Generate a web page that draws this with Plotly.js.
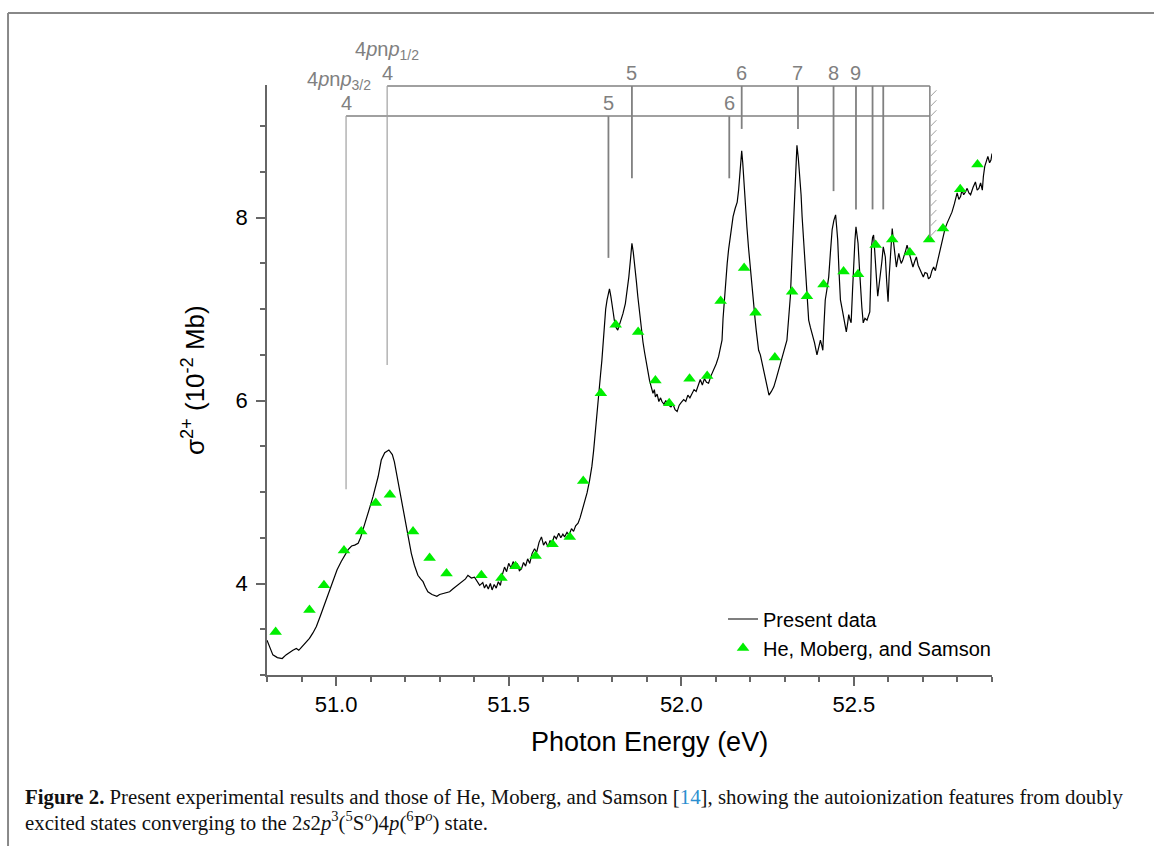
<!DOCTYPE html>
<html>
<head>
<meta charset="utf-8">
<script src="https://cdn.plot.ly/plotly-3.0.1.min.js"></script>
<style>html,body{margin:0;padding:0;background:#fff;}#chart{width:1154px;height:846px;}</style>
</head>
<body>
<div id="chart"></div>
<script>
// Present data (photon energy in eV, sigma 2+ in 1e-2 Mb)
const presentE = [50.800,50.805,50.817,50.830,50.844,50.855,50.865,50.875,50.885,50.892,50.899,50.912,50.923,50.933,50.943,50.955,50.967,50.980,50.991,51.003,51.015,51.025,51.035,51.045,51.054,51.064,51.071,51.078,51.086,51.093,51.100,51.107,51.115,51.122,51.131,51.141,51.153,51.163,51.169,51.175,51.182,51.189,51.197,51.204,51.211,51.218,51.227,51.237,51.245,51.252,51.259,51.266,51.278,51.292,51.300,51.310,51.320,51.329,51.338,51.348,51.358,51.368,51.375,51.382,51.392,51.401,51.408,51.416,51.425,51.430,51.435,51.441,51.447,51.452,51.458,51.464,51.470,51.476,51.482,51.488,51.494,51.500,51.507,51.513,51.519,51.525,51.531,51.537,51.543,51.549,51.555,51.561,51.568,51.575,51.581,51.588,51.595,51.601,51.607,51.614,51.620,51.626,51.632,51.638,51.645,51.651,51.657,51.662,51.669,51.675,51.682,51.688,51.694,51.701,51.707,51.713,51.720,51.727,51.734,51.741,51.746,51.751,51.756,51.761,51.766,51.770,51.774,51.777,51.781,51.785,51.789,51.792,51.796,51.799,51.803,51.806,51.811,51.816,51.820,51.824,51.831,51.838,51.843,51.848,51.853,51.857,51.861,51.865,51.870,51.874,51.879,51.884,51.889,51.894,51.898,51.903,51.908,51.913,51.918,51.922,51.925,51.930,51.935,51.940,51.944,51.950,51.955,51.963,51.970,51.976,51.982,51.988,51.994,52.000,52.007,52.013,52.019,52.025,52.031,52.037,52.043,52.049,52.055,52.061,52.067,52.073,52.079,52.086,52.094,52.101,52.108,52.113,52.118,52.121,52.125,52.129,52.133,52.137,52.142,52.146,52.150,52.156,52.162,52.166,52.169,52.172,52.175,52.178,52.181,52.185,52.190,52.195,52.200,52.205,52.210,52.214,52.217,52.221,52.224,52.229,52.234,52.238,52.243,52.248,52.254,52.261,52.268,52.275,52.282,52.286,52.296,52.306,52.311,52.316,52.320,52.324,52.328,52.332,52.335,52.339,52.343,52.347,52.350,52.355,52.359,52.364,52.369,52.374,52.379,52.386,52.393,52.398,52.403,52.407,52.410,52.413,52.417,52.422,52.427,52.432,52.437,52.442,52.447,52.450,52.453,52.457,52.461,52.466,52.470,52.474,52.478,52.482,52.485,52.489,52.492,52.496,52.499,52.503,52.506,52.509,52.512,52.516,52.519,52.523,52.527,52.532,52.538,52.542,52.546,52.549,52.551,52.554,52.557,52.560,52.562,52.566,52.569,52.573,52.577,52.581,52.585,52.588,52.591,52.595,52.599,52.602,52.606,52.609,52.611,52.614,52.617,52.620,52.623,52.627,52.630,52.634,52.637,52.641,52.645,52.650,52.654,52.659,52.664,52.668,52.671,52.676,52.681,52.686,52.691,52.696,52.701,52.706,52.712,52.716,52.721,52.726,52.731,52.736,52.741,52.746,52.750,52.754,52.758,52.764,52.770,52.777,52.784,52.791,52.799,52.804,52.809,52.813,52.818,52.823,52.828,52.833,52.838,52.845,52.852,52.857,52.862,52.867,52.872,52.875,52.879,52.884,52.888,52.893,52.897,52.900];
const presentY = [3.38,3.33,3.22,3.19,3.18,3.22,3.25,3.27,3.29,3.27,3.30,3.35,3.40,3.46,3.53,3.65,3.78,3.92,4.04,4.15,4.24,4.31,4.37,4.41,4.42,4.44,4.50,4.59,4.68,4.77,4.86,4.95,5.06,5.17,5.35,5.43,5.46,5.41,5.33,5.21,5.08,4.95,4.78,4.62,4.47,4.33,4.20,4.09,4.05,4.02,3.96,3.91,3.88,3.86,3.88,3.89,3.90,3.91,3.94,3.97,3.99,4.02,4.05,4.09,4.06,4.07,4.03,3.98,4.01,3.95,3.99,3.94,4.00,3.93,3.99,3.95,4.02,3.98,4.10,4.18,4.13,4.22,4.17,4.24,4.19,4.22,4.14,4.16,4.23,4.19,4.27,4.22,4.33,4.38,4.34,4.45,4.51,4.42,4.46,4.40,4.47,4.44,4.52,4.49,4.55,4.50,4.54,4.51,4.56,4.53,4.60,4.57,4.63,4.66,4.72,4.80,4.90,4.99,5.12,5.28,5.45,5.68,5.88,6.08,6.28,6.44,6.65,6.85,7.00,7.10,7.18,7.22,7.14,7.08,6.96,6.88,6.80,6.77,6.82,6.85,6.95,7.06,7.20,7.35,7.55,7.72,7.62,7.50,7.30,7.14,6.95,6.77,6.64,6.52,6.42,6.33,6.22,6.15,6.08,6.12,6.04,6.07,5.99,6.03,5.99,5.96,6.00,5.95,5.93,5.96,5.90,5.88,5.95,5.98,6.01,5.99,6.06,6.03,6.08,6.12,6.10,6.18,6.23,6.17,6.24,6.20,6.19,6.27,6.33,6.40,6.48,6.56,6.66,6.90,7.14,7.32,7.50,7.65,7.79,7.92,8.01,8.10,8.17,8.30,8.45,8.60,8.73,8.60,8.41,8.15,7.90,7.66,7.43,7.22,7.03,6.88,6.77,6.66,6.55,6.50,6.41,6.33,6.23,6.14,6.06,6.10,6.15,6.24,6.33,6.41,6.52,6.66,6.90,7.14,7.50,7.87,8.30,8.60,8.79,8.65,8.48,8.25,8.01,7.70,7.39,7.12,6.88,6.80,6.74,6.63,6.50,6.58,6.66,6.60,6.55,6.80,7.10,7.22,7.35,7.62,7.87,7.97,8.03,7.90,7.76,7.40,7.10,7.00,6.92,6.84,6.75,6.85,6.94,6.88,6.85,7.20,7.50,7.75,7.90,7.82,7.72,7.45,7.21,7.02,6.85,6.90,6.88,6.93,6.97,7.35,7.68,7.78,7.81,7.65,7.50,7.30,7.14,7.25,7.35,7.52,7.68,7.62,7.57,7.30,7.08,7.35,7.65,7.78,7.88,7.76,7.65,7.55,7.46,7.55,7.61,7.54,7.50,7.53,7.57,7.64,7.70,7.62,7.57,7.50,7.46,7.52,7.57,7.48,7.43,7.38,7.35,7.40,7.39,7.33,7.35,7.42,7.46,7.42,7.50,7.58,7.65,7.72,7.79,7.88,7.94,8.00,8.06,8.15,8.27,8.20,8.23,8.30,8.25,8.28,8.32,8.27,8.25,8.33,8.39,8.30,8.32,8.38,8.30,8.45,8.56,8.62,8.67,8.60,8.63,8.70];

// He, Moberg, and Samson
const hmsE = [50.825,50.923,50.965,51.023,51.073,51.115,51.156,51.223,51.271,51.320,51.421,51.479,51.520,51.578,51.627,51.677,51.716,51.767,51.810,51.875,51.925,51.965,52.024,52.075,52.114,52.182,52.215,52.271,52.321,52.364,52.412,52.470,52.512,52.563,52.611,52.662,52.718,52.758,52.808,52.858];
const hmsY = [3.47,3.71,3.98,4.36,4.57,4.88,4.97,4.57,4.28,4.11,4.09,4.06,4.19,4.30,4.43,4.51,5.12,6.08,6.83,6.75,6.22,5.97,6.24,6.27,7.09,7.45,6.96,6.47,7.19,7.14,7.27,7.41,7.38,7.70,7.76,7.62,7.76,7.88,8.31,8.58];

// Rydberg series markers
const s32E = [51.029, 51.789, 52.139];
const s32Bottom = [5.03, 7.56, 8.43];
const s32Labels = ['4', '5', '6'];
const s32Level = 9.11;
const s12E = [51.148, 51.857, 52.175, 52.338, 52.441, 52.506, 52.554, 52.585];
const s12Bottom = [6.39, 8.43, 8.97, 8.97, 8.29, 8.09, 8.09, 8.09];
const s12Labels = ['4', '5', '6', '7', '8', '9', '', ''];
const s12Level = 9.44;
const limitE = 52.72;
const limitBottom = 7.78;

const xTickVals = [51.0, 51.5, 52.0, 52.5];
const xTickText = ['51.0', '51.5', '52.0', '52.5'];
const yTickVals = [4, 6, 8];
const yTickText = ['4', '6', '8'];

const gray = '#808080';
const sans = 'Liberation Sans, Arial, sans-serif';
const serif = 'Liberation Serif, Times New Roman, serif';

const shapes = [];
const annotations = [];

// horizontal series lines
shapes.push({type:'line', xref:'x', yref:'y', x0:s32E[0], x1:limitE, y0:s32Level, y1:s32Level, line:{color:gray, width:1.5}});
shapes.push({type:'line', xref:'x', yref:'y', x0:s12E[0], x1:limitE, y0:s12Level, y1:s12Level, line:{color:gray, width:1.5}});
// vertical lines
s32E.forEach((e, i) => {
  shapes.push({type:'line', xref:'x', yref:'y', x0:e, x1:e, y0:s32Bottom[i], y1:s32Level,
    line:{color: i === 0 ? '#a0a0a0' : gray, width: i === 0 ? 1.2 : 1.8}});
  annotations.push({xref:'x', yref:'paper', x:e, y:0.9703, text:s32Labels[i], showarrow:false,
    xanchor:'center', yanchor:'middle', font:{family:sans, size:20, color:gray}});
});
s12E.forEach((e, i) => {
  shapes.push({type:'line', xref:'x', yref:'y', x0:e, x1:e, y0:s12Bottom[i], y1:s12Level,
    line:{color: i === 0 ? '#a0a0a0' : gray, width: i === 0 ? 1.2 : 1.8}});
  if (s12Labels[i]) annotations.push({xref:'x', yref:'paper', x:e, y:1.0198, text:s12Labels[i], showarrow:false,
    xanchor:'center', yanchor:'middle', font:{family:sans, size:20, color:gray}});
});
// series limit with hatching
shapes.push({type:'line', xref:'x', yref:'y', x0:limitE, x1:limitE, y0:limitBottom, y1:s12Level, line:{color:gray, width:1.5}});
for (let k = 0; k < 15; k++) {
  const y0 = limitBottom + 0.02 + k * 0.109;
  shapes.push({type:'line', xref:'x', yref:'y', x0:limitE + 0.002, x1:limitE + 0.019, y0:y0, y1:y0 + 0.066, line:{color:'#a0a0a0', width:1}});
}
// series names
annotations.push({xref:'x', yref:'paper', x:51.1485, y:1.058, text:'4<i>p</i>n<i>p</i><sub>1/2</sub>', showarrow:false,
  xanchor:'center', yanchor:'middle', font:{family:sans, size:20, color:gray}});
annotations.push({xref:'x', yref:'paper', x:51.009, y:1.008, text:'4<i>p</i>n<i>p</i><sub>3/2</sub>', showarrow:false,
  xanchor:'center', yanchor:'middle', font:{family:sans, size:20, color:gray}});

// axis titles
annotations.push({xref:'paper', yref:'paper', x:0.528, y:-0.1136, text:'Photon Energy (eV)', showarrow:false,
  xanchor:'center', yanchor:'middle', font:{family:sans, size:27, color:'#000'}});
annotations.push({xref:'paper', yref:'paper', x:-0.102, y:0.5, text:'σ<sup>2+</sup> (10<sup>-2</sup> Mb)', showarrow:false,
  textangle:-90, xanchor:'center', yanchor:'middle', font:{family:sans, size:26, color:'#000'}});

// caption
annotations.push({xref:'paper', yref:'paper', x:-0.3366, y:-0.2068, xanchor:'left', yanchor:'middle', align:'left', showarrow:false,
  text:'<b>Figure 2.</b> Present experimental results and those of He, Moberg, and Samson [<span style="color:#2b8fd0">14</span>], showing the autoionization features from doubly',
  font:{family:serif, size:20.8, color:'#111'}});
annotations.push({xref:'paper', yref:'paper', x:-0.3366, y:-0.249, xanchor:'left', yanchor:'middle', align:'left', showarrow:false,
  text:'excited states converging to the 2<i>s</i>2<i>p</i><sup>3</sup>(<sup>5</sup>S<sup><i>o</i></sup>)4<i>p</i>(<sup>6</sup>P<sup><i>o</i></sup>) state.',
  font:{family:serif, size:20.8, color:'#111'}});

// page frame
shapes.push({type:'line', xref:'paper', yref:'paper', x0:-0.3572, x1:-0.3572, y0:1.122, y1:-0.32, line:{color:'#888', width:2}});
shapes.push({type:'line', xref:'paper', yref:'paper', x0:-0.3572, x1:1.25, y0:1.122, y1:1.122, line:{color:'#888', width:2}});

const traces = [
  {x:presentE, y:presentY, type:'scatter', mode:'lines', name:'Present data', line:{color:'#000', width:1.2}},
  {x:hmsE, y:hmsY, type:'scatter', mode:'markers', name:'He, Moberg, and Samson',
   marker:{symbol:'triangle-up', size:11, color:'#00ee00', line:{width:0}}}
];

const axisCommon = {
  showline:true, linecolor:'#666', linewidth:1.5, ticks:'outside', ticklen:9, tickwidth:1.5, tickcolor:'#666',
  showgrid:false, zeroline:false, tickfont:{family:sans, size:22, color:'#000'}, fixedrange:true
};

const layout = {
  width:1154, height:846,
  margin:{l:267, r:162, t:85, b:171, pad:0},
  paper_bgcolor:'#fff', plot_bgcolor:'#fff',
  font:{family:sans},
  xaxis: Object.assign({}, axisCommon, {range:[50.8, 52.9], tickmode:'array', tickvals:xTickVals, ticktext:xTickText,
    minor:{dtick:0.1, tick0:50.8, ticks:'outside', ticklen:5, tickwidth:1.5, tickcolor:'#666', showgrid:false}}),
  yaxis: Object.assign({}, axisCommon, {range:[3.0, 9.45], tickmode:'array', tickvals:yTickVals, ticktext:yTickText,
    ticklabelstandoff:4,
    minor:{dtick:0.5, tick0:3.0, ticks:'outside', ticklen:5, tickwidth:1.5, tickcolor:'#666', showgrid:false}}),
  showlegend:true,
  legend:{x:0.629, y:0.128, xanchor:'left', yanchor:'top', bgcolor:'rgba(0,0,0,0)', borderwidth:0,
    font:{family:sans, size:20, color:'#000'}, tracegroupgap:0},
  shapes:shapes,
  annotations:annotations
};

Plotly.newPlot('chart', traces, layout, {displayModeBar:false});
</script>
</body>
</html>
